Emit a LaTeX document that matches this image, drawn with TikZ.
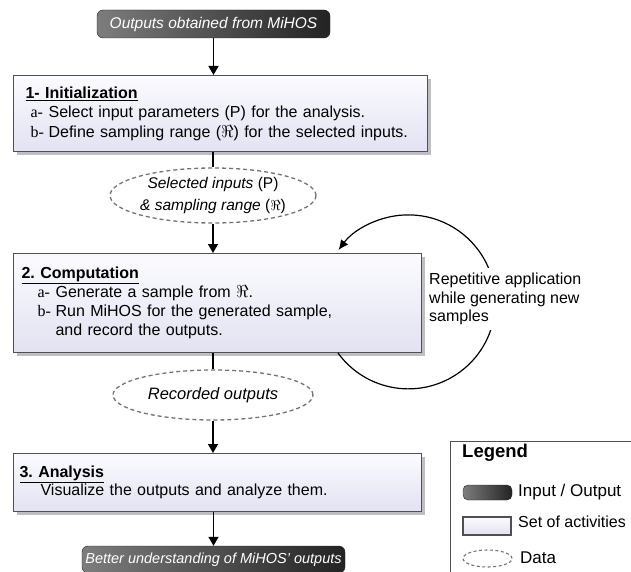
\documentclass[tikz,border=0pt]{standalone}
\usepackage{fontspec}
\setmainfont{Liberation Sans}
\newfontfamily\serifl{Liberation Serif}
\usetikzlibrary{shapes.geometric,arrows.meta,shadows}
\frenchspacing

\definecolor{boxtop}{RGB}{251,251,255}
\definecolor{boxbot}{RGB}{226,226,242}
\definecolor{ioL}{RGB}{125,125,125}
\definecolor{ioR}{RGB}{35,35,35}
\definecolor{edgec}{RGB}{80,80,80}
\definecolor{dashc}{RGB}{115,115,115}

\newcommand{\lbl}[1]{\makebox[18pt][l]{\serifl #1-}}

\begin{document}
\begin{tikzpicture}[x=1pt,y=-1pt,
  actbox/.style={draw=edgec, line width=1.2pt, top color=boxtop, bottom color=boxbot,
    drop shadow={shadow xshift=3pt,shadow yshift=-3pt,fill=black,opacity=0.25},
    anchor=north west, align=left, inner ysep=0pt, font=\fontsize{16}{19.5}\selectfont},
  iobox/.style={rounded corners=6pt, left color=ioL, right color=ioR, draw=ioR,
    text=white, font=\fontsize{15.5}{18}\selectfont\itshape, inner sep=0pt},
  dataell/.style={ellipse, draw=dashc, dash pattern=on 4pt off 3pt, line width=1.3pt,
    inner sep=0pt, align=center, font=\fontsize{15.5}{21.5}\selectfont},
  arr/.style={line width=1.5pt, -{Triangle[width=10pt,length=9pt]}},
  plainline/.style={line width=1.5pt},
  legtext/.style={anchor=west, inner sep=0pt, font=\fontsize{17}{20}\selectfont}
]
\useasboundingbox (0,0) rectangle (631,572);

% input / output nodes
\node[iobox, minimum width=233pt, minimum height=28pt] (top) at (213.5,24) {Outputs obtained from MiHOS};
\node[iobox, minimum width=263pt, minimum height=27pt, font=\fontsize{14.5}{17}\selectfont\itshape] (bot) at (213.5,559.5) {Better understanding of MiHOS' outputs};

% activity boxes
\node[actbox, minimum width=414pt, minimum height=76pt, inner xsep=12pt, text width=390pt] (b1) at (13,75)
 {\underline{\textbf{1- Initialization}}\\
  \hspace*{5pt}\lbl{a}Select input parameters (P) for the analysis.\\
  \hspace*{5pt}\lbl{b}Define sampling range ($\Re$) for the selected inputs.};

\node[actbox, minimum width=408pt, minimum height=99pt, inner xsep=8pt, text width=392pt,
      font=\fontsize{16}{19}\selectfont] (b2) at (13,253)
 {\underline{\textbf{2. Computation}}\\
  \hspace*{16pt}\lbl{a}Generate a sample from $\Re$.\\
  \hspace*{16pt}\lbl{b}Run MiHOS for the generated sample,\\
  \hspace*{34pt}and record the outputs.};

\node[actbox, minimum width=408pt, minimum height=58pt, inner xsep=6pt, text width=396pt,
      font=\fontsize{16}{18.5}\selectfont] (b3) at (13,453)
 {\underline{\textbf{3. Analysis}}\\
  \hspace*{21pt}Visualize the outputs and analyze them.};

% data ellipses
\node[dataell, minimum width=200pt, minimum height=55pt] (e1) at (213,195.5)
 {\textit{Selected inputs} (P)\\\textit{\& sampling range} ($\Re$)};
\node[dataell, minimum width=200pt, minimum height=50pt, font=\fontsize{16.5}{20}\selectfont] (e2) at (213,395)
 {\textit{Recorded outputs}};

% connectors
\draw[arr] (top.south) -- (top.south |- b1.north);
\draw[plainline] (b1.south -| e1.north) -- (e1.north);
\draw[arr] (e1.south) -- (e1.south |- b2.north);
\draw[plainline] (b2.south -| e2.north) -- (e2.north);
\draw[arr] (e2.south) -- (e2.south |- b3.north);
\draw[arr] (b3.south -| bot.north) -- (bot.north);

% repetition loop
\coordinate (loopS) at (338,353);
\draw[line width=1.2pt, -{Latex[width=9pt,length=10pt]}] (loopS) arc[start angle=216, end angle=503.4, radius=87pt];
\node[fill=white, align=left, anchor=west, inner xsep=2pt, inner ysep=5pt,
      font=\fontsize{16}{18.5}\selectfont] (rep) at (427,299)
 {Repetitive application\\while generating new\\samples};

% legend
\node[draw=edgec, line width=1.2pt, minimum width=200pt, minimum height=150pt, anchor=north west, inner sep=0pt] (leg) at (450,441) {};
\node[anchor=west, inner sep=0pt, font=\fontsize{18.5}{20}\selectfont\bfseries] (legt) at (462,453) {Legend};
\node[iobox, minimum width=49pt, minimum height=15pt, rounded corners=5pt] (lio) at (487.5,492.5) {};
\node[legtext] (liot) at (518,492) {Input / Output};
\node[draw=edgec, line width=1.2pt, top color=boxtop, bottom color=boxbot, minimum width=48pt, minimum height=18pt, inner sep=0pt] (lact) at (487,526) {};
\node[legtext, font=\fontsize{16}{19}\selectfont] (lactt) at (518,522) {Set of activities};
\node[dataell, minimum width=49pt, minimum height=17pt, line width=1.1pt, dash pattern=on 3pt off 2.5pt] (ldat) at (487.5,558.5) {};
\node[legtext] (ldatt) at (520,558) {Data};
\end{tikzpicture}
\end{document}
